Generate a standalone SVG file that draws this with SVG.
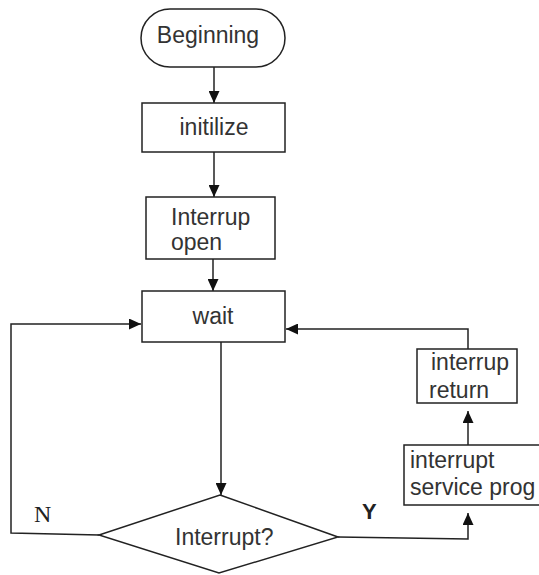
<svg xmlns="http://www.w3.org/2000/svg" width="539" height="575" viewBox="0 0 539 575">
<style>
.box{fill:#fff;stroke:#222;stroke-width:1.5}
.t{font-family:"Liberation Sans",Arial,sans-serif;font-size:23px;fill:#333}
.ln{fill:none;stroke:#222;stroke-width:1.5}
</style>
<defs>
<marker id="ah" markerUnits="userSpaceOnUse" markerWidth="12" markerHeight="11" refX="12" refY="5.5" orient="auto">
<path d="M0,0 L12,5.5 L0,11 z" fill="#111"/>
</marker>
</defs>
<rect width="539" height="575" fill="#fff"/>
<g id="connectors">
<line class="ln" x1="214" y1="67" x2="214" y2="103" marker-end="url(#ah)"/>
<line class="ln" x1="214" y1="152" x2="214" y2="197" marker-end="url(#ah)"/>
<line class="ln" x1="213" y1="259" x2="213" y2="291" marker-end="url(#ah)"/>
<line class="ln" x1="221" y1="342" x2="221" y2="495" marker-end="url(#ah)"/>
<polyline class="ln" points="99,535 11,533 11,324 141,324" marker-end="url(#ah)"/>
<polyline class="ln" points="338,537 468,539 468,513" marker-end="url(#ah)"/>
<line class="ln" x1="468" y1="445" x2="468" y2="411" marker-end="url(#ah)"/>
<polyline class="ln" points="468,349 468,329 286,329" marker-end="url(#ah)"/>
</g>
<g id="beginning">
<rect class="box" x="141" y="9" width="144" height="58" rx="29"/>
<text class="t" x="208" y="43" text-anchor="middle">Beginning</text>
</g>
<g id="initilize">
<rect class="box" x="142" y="103" width="143" height="49"/>
<text class="t" x="214" y="135" text-anchor="middle">initilize</text>
</g>
<g id="interrup-open">
<rect class="box" x="146" y="197" width="129" height="62"/>
<text class="t" x="171" y="225">Interrup</text>
<text class="t" x="171" y="250">open</text>
</g>
<g id="wait">
<rect class="box" x="142" y="291" width="143" height="51"/>
<text class="t" x="213" y="324" text-anchor="middle">wait</text>
</g>
<g id="decision">
<polygon class="box" points="220,495 338,537 219,573 99,535"/>
<text class="t" x="175" y="545">Interrupt?</text>
</g>
<g id="interrup-return">
<rect class="box" x="417" y="349" width="100" height="54"/>
<text class="t" x="431" y="370">interrup</text>
<text class="t" x="429" y="398">return</text>
</g>
<g id="service">
<rect class="box" x="404" y="445" width="140" height="60"/>
<text class="t" x="410" y="468">interrupt</text>
<text class="t" x="410" y="495">service prog</text>
</g>
<g id="labels">
<text x="34" y="522" font-family="'Liberation Serif','Times New Roman',serif" font-size="24" fill="#222">N</text>
<text x="362" y="519" font-family="'Liberation Sans',Arial,sans-serif" font-size="22" font-weight="bold" fill="#222">Y</text>
</g>
</svg>
